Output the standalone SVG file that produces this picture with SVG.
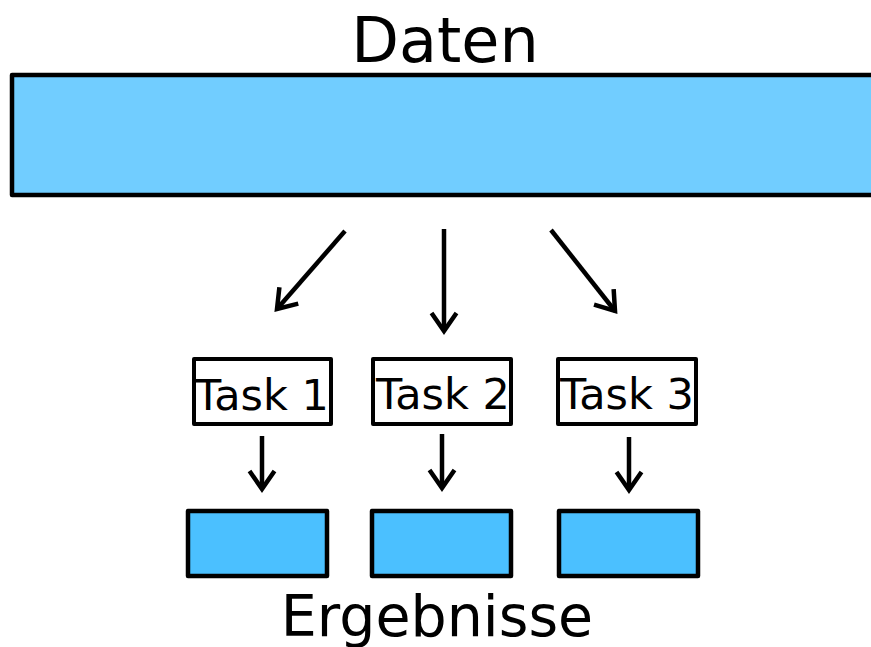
<svg xmlns="http://www.w3.org/2000/svg" width="871" height="647" viewBox="0 0 871 647">
<defs>
<style>
.lbl{font-family:"DejaVu Sans","Liberation Sans",sans-serif;fill:#000;text-anchor:middle}
.data{fill:#71cdff;stroke:#000;stroke-width:4.5;stroke-linejoin:round}
.task{fill:#fff;stroke:#000;stroke-width:4;stroke-linejoin:round}
.res{fill:#4bc0ff;stroke:#000;stroke-width:4.5;stroke-linejoin:round}
.conn{stroke:#000;stroke-width:4.5;fill:none;marker-end:url(#ah)}
</style>
<marker id="ah" markerUnits="userSpaceOnUse" viewBox="-26 -18 30 36" refX="0" refY="0" markerWidth="30" markerHeight="36" orient="auto">
<path d="M-18,-12.5 L0,0 L-18,12.5" fill="none" stroke="#000" stroke-width="4.5" stroke-linejoin="miter"/>
</marker>
</defs>
<rect width="871" height="647" fill="#fff"/>
<g id="daten">
<rect class="data" x="12" y="75" width="875" height="120"/>
<text class="lbl" x="445" y="62" font-size="62">Daten</text>
</g>
<g id="task1">
<rect class="task" x="194" y="359" width="137" height="65"/>
<text class="lbl" x="262" y="410" font-size="43">Task 1</text>
</g>
<g id="task2">
<rect class="task" x="373" y="359" width="138" height="65"/>
<text class="lbl" x="443" y="409" font-size="43">Task 2</text>
</g>
<g id="task3">
<rect class="task" x="558" y="359" width="138" height="65"/>
<text class="lbl" x="627" y="409" font-size="43">Task 3</text>
</g>
<g id="result1">
<rect class="res" x="188" y="511" width="139" height="65"/>
</g>
<g id="result2">
<rect class="res" x="372" y="511" width="139" height="65"/>
</g>
<g id="result3">
<rect class="res" x="559" y="511" width="139" height="65"/>
</g>
<g id="ergebnisse">
<text class="lbl" x="437" y="636" font-size="57">Ergebnisse</text>
</g>
<g id="connectors">
<line class="conn" x1="345" y1="231" x2="277" y2="309"/>
<line class="conn" x1="444" y1="229" x2="444" y2="331"/>
<line class="conn" x1="551" y1="230" x2="615" y2="311"/>
<line class="conn" x1="262" y1="436" x2="262" y2="489"/>
<line class="conn" x1="442" y1="434" x2="442" y2="488"/>
<line class="conn" x1="629" y1="437" x2="629" y2="490"/>
</g>
</svg>
